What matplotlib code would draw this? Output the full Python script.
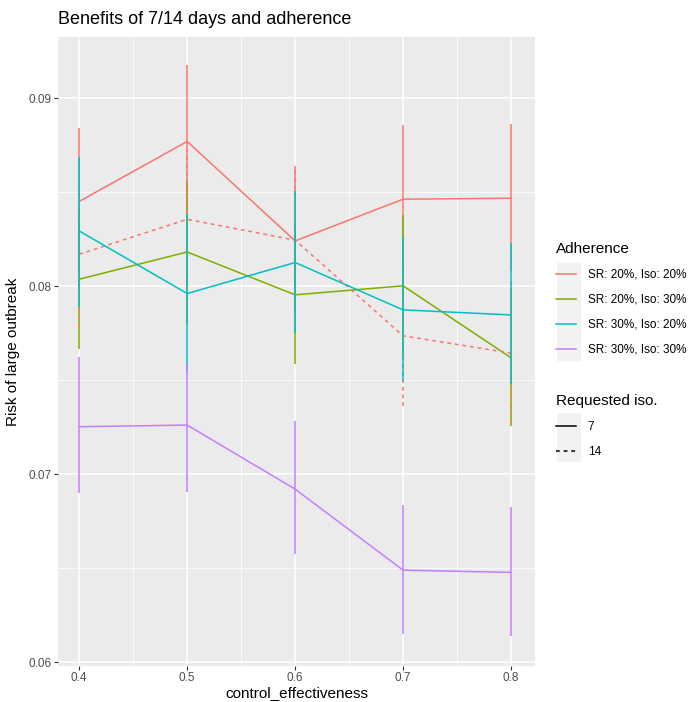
import matplotlib.pyplot as plt
from matplotlib.lines import Line2D
from matplotlib.patches import Rectangle

plt.rcParams['font.family'] = ['Liberation Sans', 'DejaVu Sans']

x = [0.4, 0.5, 0.6, 0.7, 0.8]

# risk of large outbreak, with interval ends, per adherence / requested iso.
red7 = [0.08451, 0.08770, 0.08241, 0.08463, 0.08468]
red7_lo = [0.08060, 0.08360, 0.07860, 0.08070, 0.08080]
red7_hi = [0.08844, 0.09176, 0.08637, 0.08856, 0.08862]

red14 = [0.08170, 0.08356, 0.08245, 0.07736, 0.07644]
red14_lo = [0.07785, 0.07980, 0.07865, 0.07363, 0.07270]
red14_hi = [0.08545, 0.08730, 0.08620, 0.08110, 0.08020]

green7 = [0.08037, 0.08182, 0.07954, 0.08002, 0.07619]
green7_lo = [0.07665, 0.07800, 0.07585, 0.07630, 0.07258]
green7_hi = [0.08410, 0.08560, 0.08330, 0.08380, 0.07990]

cyan7 = [0.08294, 0.07961, 0.08126, 0.07874, 0.07847]
cyan7_lo = [0.07890, 0.07540, 0.07753, 0.07496, 0.07479]
cyan7_hi = [0.08690, 0.08383, 0.08507, 0.08260, 0.08232]

purple7 = [0.07252, 0.07261, 0.06920, 0.06489, 0.06477]
purple7_lo = [0.06897, 0.06906, 0.06574, 0.06149, 0.06140]
purple7_hi = [0.07621, 0.07585, 0.07280, 0.06835, 0.06823]

adherence = ['SR: 20%, Iso: 20%', 'SR: 20%, Iso: 30%', 'SR: 30%, Iso: 20%', 'SR: 30%, Iso: 30%']
colors = ['#F8766D', '#7CAE00', '#00BFC4', '#C77CFF']
iso_labels = ['7', '14']

fig = plt.figure(figsize=(6.89, 7.02), dpi=100)
ax = fig.add_axes([0.0842, 0.0513, 0.692, 0.896])
ax.set_facecolor('#EBEBEB')
for s in ax.spines.values():
    s.set_visible(False)

ax.set_xlim(0.3804, 0.822)
ax.set_ylim(0.05979, 0.09326)
ax.set_xticks(x)
ax.set_xticks([0.45, 0.55, 0.65, 0.75], minor=True)
ax.set_yticks([0.06, 0.07, 0.08, 0.09])
ax.set_yticks([0.065, 0.075, 0.085], minor=True)
ax.set_xticklabels(['0.4', '0.5', '0.6', '0.7', '0.8'])
ax.set_yticklabels(['0.06', '0.07', '0.08', '0.09'])
ax.grid(True, which='major', color='white', linewidth=1.1)
ax.grid(True, which='minor', color='white', linewidth=0.55)
ax.set_axisbelow(True)
ax.tick_params(which='major', length=3, width=0.8, color='#333333',
               labelsize=8.5, labelcolor='#4D4D4D', pad=1.5)
ax.tick_params(which='minor', length=0)

lw = 1.1
series = [
    (red7, red7_lo, red7_hi, colors[0], '-'),
    (green7, green7_lo, green7_hi, colors[1], '-'),
    (red14, red14_lo, red14_hi, colors[0], '--'),
    (cyan7, cyan7_lo, cyan7_hi, colors[2], '-'),
    (purple7, purple7_lo, purple7_hi, colors[3], '-'),
]
for i, (y, lo, hi, c, ls) in enumerate(series):
    if ls == '--':
        ax.vlines(x, lo, hi, colors=c, linewidth=lw, linestyles=(0, (2.5, 2.5)), zorder=3 + i)
        ax.plot(x, y, color=c, linewidth=lw, dashes=(2.5, 2.5), zorder=3 + i)
    else:
        ax.vlines(x, lo, hi, colors=c, linewidth=lw, zorder=3 + i)
        ax.plot(x, y, color=c, linewidth=lw, zorder=3 + i)

ax.set_xlabel('control_effectiveness', fontsize=11, labelpad=1)
ax.set_ylabel('Risk of large outbreak', fontsize=11, labelpad=6)
fig.text(58 / 689, 1 - 20 / 702, 'Benefits of 7/14 days and adherence',
         fontsize=13, va='center', ha='left')

# legends
fig.patches.append(Rectangle((557 / 689, 1 - 361 / 702), 24 / 689, 98 / 702,
                             transform=fig.transFigure, facecolor='#F2F2F2',
                             edgecolor='none', zorder=0))
fig.patches.append(Rectangle((557 / 689, 1 - 462 / 702), 24 / 689, 49 / 702,
                             transform=fig.transFigure, facecolor='#F2F2F2',
                             edgecolor='none', zorder=0))

h1 = [Line2D([], [], color=c, linewidth=lw) for c in colors]
leg1 = fig.legend(h1, adherence, title='Adherence', loc='upper left',
                  bbox_to_anchor=(551 / 689, 1 - 237 / 702), frameon=False,
                  fontsize=8.5, title_fontsize=11, labelspacing=1.1,
                  handlelength=1.75, handletextpad=0.95, borderaxespad=0)
leg1._legend_box.align = 'left'

h2 = [Line2D([], [], color='black', linewidth=lw),
      Line2D([], [], color='black', linewidth=lw, dashes=(2.5, 2.5))]
leg2 = fig.legend(h2, iso_labels, title='Requested iso.', loc='upper left',
                  bbox_to_anchor=(551 / 689, 1 - 389 / 702), frameon=False,
                  fontsize=8.5, title_fontsize=11, labelspacing=1.1,
                  handlelength=1.75, handletextpad=0.95, borderaxespad=0)
leg2._legend_box.align = 'left'

fig.savefig('out.png', dpi=100)
